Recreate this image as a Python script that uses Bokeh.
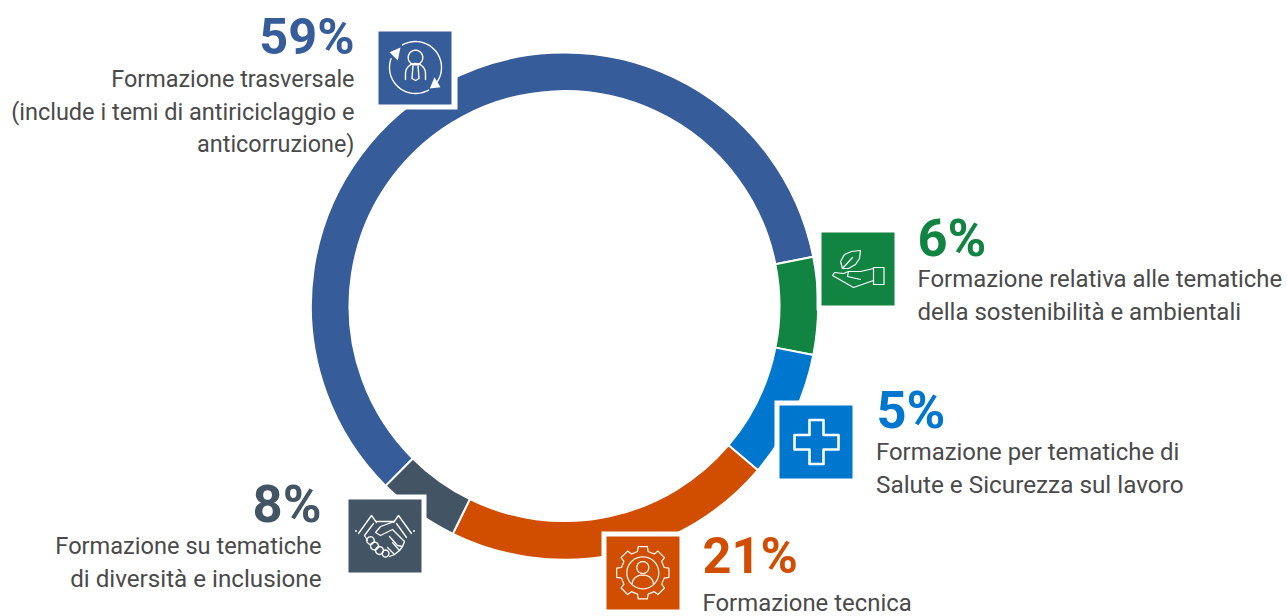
import math
from bokeh.plotting import figure
from bokeh.models import Range1d
from bokeh.core.properties import value
from bokeh.embed import file_html
from bokeh.resources import INLINE

# Segment order: clockwise, starting from the dark blue arc
categories = ["Formazione trasversale", "Sostenibilita", "Salute e Sicurezza", "Tecnica", "Diversita"]
arc_shares = [59.4, 6.2, 8.1, 21.05, 5.2]   # arc lengths as drawn in the picture
labels_pct = ["59%", "6%", "5%", "21%", "8%"]
colors = ["#365C9A", "#118442", "#0077CF", "#D14D00", "#435565"]
desc = [
    ["Formazione trasversale", "(include i temi di antiriciclaggio e", "anticorruzione)"],
    ["Formazione relativa alle tematiche", "della sostenibilità e ambientali"],
    ["Formazione per tematiche di", "Salute e Sicurezza sul lavoro"],
    ["Formazione tecnica"],
    ["Formazione su tematiche", "di diversità e inclusione"],
]

W, H = 1287, 616
CX, CY, R_OUT, R_IN = 564.0, 305.6, 253.6, 215.0

def Y(py):
    return H - py

p = figure(width=W, height=H, output_backend="svg", toolbar_location=None,
           x_range=Range1d(0, W), y_range=Range1d(0, H),
           min_border=0, outline_line_color=None, background_fill_color="white")
p.axis.visible = False
p.grid.visible = False

total = sum(arc_shares)
ang = 11.2 + arc_shares[0] / total * 360
for share, c in zip(arc_shares, colors):
    end = ang - share / total * 360
    p.annular_wedge(x=[CX], y=[Y(CY)], inner_radius=R_IN, outer_radius=R_OUT,
                    start_angle=math.radians(end), end_angle=math.radians(ang),
                    fill_color=c, line_color="white", line_width=2)
    ang = end

SIZE = 73
boxes = [(378, 31), (821, 232), (779, 405), (606, 536), (348, 499)]
halos = [(372, 25, 85, 84), (816, 227, 83, 83), (774, 400, 83, 83), (601, 531, 83, 83), (343, 494, 83, 83)]
for (hx, hy, hw, hh) in halos:
    p.quad(left=[hx], right=[hx + hw], top=[Y(hy)], bottom=[Y(hy + hh)], fill_color="white", line_color=None)
for (bx, by), c in zip(boxes, colors):
    p.quad(left=[bx], right=[bx + SIZE], top=[Y(by)], bottom=[Y(by + SIZE)], fill_color=c, line_color=None)

def draw(idx, paths, width=1.1):
    bx, by = boxes[idx]
    xs = [[bx + q[0] for q in path] for path in paths]
    ys = [[Y(by + q[1]) for q in path] for path in paths]
    p.multi_line(xs, ys, line_color="white", line_width=width, line_join="round", line_cap="round")

def fill(idx, polys):
    bx, by = boxes[idx]
    xs = [[bx + q[0] for q in path] for path in polys]
    ys = [[Y(by + q[1]) for q in path] for path in polys]
    p.patches(xs, ys, fill_color="white", line_color=None)

def arc(cx, cy, r, a0, a1, n=40, ry=None):
    ry = r if ry is None else ry
    return [(cx + r * math.cos(math.radians(a0 + (a1 - a0) * i / n)),
             cy + ry * math.sin(math.radians(a0 + (a1 - a0) * i / n))) for i in range(n + 1)]

# Person with circular arrows
draw(0, [
    arc(37, 36, 26, 240, 395),
    arc(37, 36, 26, 60, 200),
    arc(37, 26, 7.3, 0, 360),
    [(27, 48), (27, 42)] + arc(37, 42, 10, 180, 360) + [(47, 48)],
    [(34.5, 34), (33.5, 47), (37, 49), (40.5, 47), (39.5, 34)],
], 1.4)
fill(0, [[(22, 16), (11, 20.7), (19.3, 29)], [(51.3, 57), (62, 55.7), (56, 45.7)]])

# Hand holding leaf
draw(1, [
    [(21, 36), (19, 29), (23, 22), (30, 19), (39, 18), (38, 26), (34, 32), (27, 36), (21, 36), (31, 25)],
    [(52, 35), (62.5, 35), (62.5, 52), (52, 52), (52, 35)],
    [(52, 36), (39, 39), (27, 39), (22, 41), (13, 40), (11, 43), (32, 55), (52, 48)],
    [(27, 39), (26, 44), (39, 47)],
], 1.2)

# Cross
draw(2, [[(30, 14.5), (44, 14.5), (44, 29.5), (59, 29.5), (59, 44), (44, 44), (44, 58.5),
          (30, 58.5), (30, 44), (15, 44), (15, 29.5), (30, 29.5), (30, 14.5)]], 2.6)

# Gear with person
gear = []
TEETH = 8
for t in range(TEETH):
    c0 = t * 360 / TEETH - 90
    for da, rr in [(-14, 22), (-10, 26.5), (10, 26.5), (14, 22)]:
        gear.append((36.3 + rr * math.cos(math.radians(c0 + da)), 36.3 + rr * math.sin(math.radians(c0 + da))))
gear.append(gear[0])
draw(3, [gear, arc(36.3, 36.3, 16, 0, 360), arc(36.3, 31, 6, 0, 360),
         arc(36.3, 47, 10.5, 180, 360, ry=8.5)], 1.2)

# Handshake
draw(4, [
    [(10, 34), (23, 16), (28, 23)],
    [(63, 34), (50, 16), (45, 23)],
    [(48, 24), (58, 38)],
    [(28, 22), (46, 22), (32, 27), (27, 33), (32, 36), (44, 30), (56, 42), (54, 47), (49, 46), (41, 37)],
    [(25, 24), (16, 36), (19, 41)],
    arc(22, 41, 3.8, 0, 360, 12), arc(26, 46.5, 4, 0, 360, 12), arc(31, 51, 4, 0, 360, 12), arc(37, 54, 3.5, 0, 360, 12),
    [(54, 47), (51, 51), (44, 43)], [(51, 51), (46, 55), (39, 48)], [(46, 55), (41, 57)],
], 1.3)
fill(4, [arc(7.5, 31.5, 1, 0, 360, 8), arc(65.5, 31.5, 1, 0, 360, 8)])

FONT = "Roboto"
BASE_SHIFT = 0.385  # the renderer sets "alphabetic" text this many em too low
def label(txt, x, py, size, color, align, style="normal"):
    p.text(x=[x], y=[Y(py - BASE_SHIFT * size)], text=[txt], text_font=value(FONT), text_font_size=f"{size}px",
           text_font_style=style, text_color=color, text_align=align, text_baseline="alphabetic")

TXT = "#4A4A4A"
pct_sizes = [50.5, 52.5, 52.5, 50.5, 52.5]
desc_sizes = [[23.4, 23.5, 23.4], [23.9, 24.0], [23.9, 24.3], [23.9], [23.6, 24.2]]
pct_pos = [(354, 55, "right"), (917, 258, "left"), (876, 430, "left"), (702, 574, "left"), (321, 524, "right")]
desc_pos = [(354, [88, 121, 153]), (917, [288, 321]), (875.5, [461, 493]), (702, [612]), (321, [555, 588])]
for i in range(5):
    x, py, al = pct_pos[i]
    label(labels_pct[i], x, py, pct_sizes[i], colors[i], al, "bold")
    dx, pys = desc_pos[i]
    for line, ly, sz in zip(desc[i], pys, desc_sizes[i]):
        label(line, dx, ly, sz, TXT, al)

open("out.html", "w").write(file_html(p, INLINE))
